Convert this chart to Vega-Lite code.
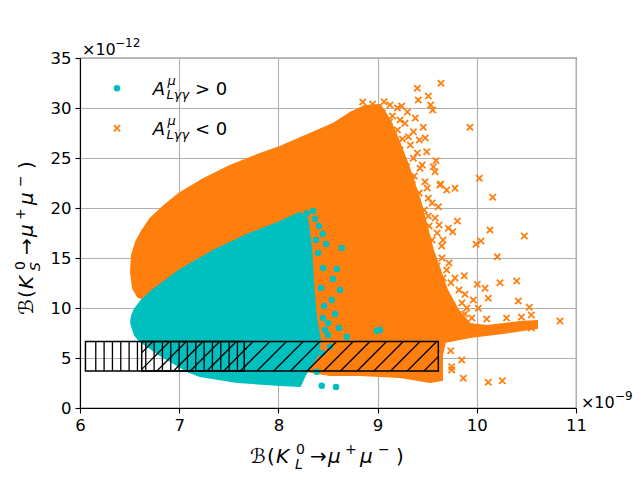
{
  "$schema": "https://vega.github.io/schema/vega-lite/v6.json",
  "autosize": {"type": "none"},
  "width": 496,
  "height": 350,
  "padding": {"left": 80, "top": 58, "right": 64, "bottom": 72},
  "config": {
    "font": "DejaVu Sans",
    "view": {"stroke": "black", "strokeWidth": 1.1},
    "axis": {
      "labelFont": "DejaVu Sans",
      "labelFontSize": 16.5,
      "labelColor": "black",
      "labelFlush": false,
      "labelOverlap": false,
      "format": "d",
      "tickColor": "black",
      "tickSize": 5,
      "tickWidth": 1.1,
      "domainColor": "black",
      "domainWidth": 1.1,
      "labelPadding": 4,
      "gridColor": "#b0b0b0",
      "gridWidth": 1.1
    }
  },
  "datasets": {
    "one": [{}],
    "orangeCloud": [
      {"i": 1, "x": 6.514, "y": 13.6}, {"i": 2, "x": 6.524, "y": 15.3},
      {"i": 3, "x": 6.565, "y": 16.6}, {"i": 4, "x": 6.625, "y": 17.7},
      {"i": 5, "x": 6.706, "y": 18.9}, {"i": 6, "x": 6.857, "y": 20.3},
      {"i": 7, "x": 7.008, "y": 21.5}, {"i": 8, "x": 7.21, "y": 22.7},
      {"i": 9, "x": 7.512, "y": 24.2}, {"i": 10, "x": 7.815, "y": 25.4},
      {"i": 11, "x": 8.016, "y": 26.1}, {"i": 12, "x": 8.319, "y": 27.4},
      {"i": 13, "x": 8.55, "y": 28.4}, {"i": 14, "x": 8.722, "y": 29.5},
      {"i": 15, "x": 8.873, "y": 30.2}, {"i": 16, "x": 9.024, "y": 30.3},
      {"i": 17, "x": 9.11, "y": 29.0}, {"i": 18, "x": 9.19, "y": 27.3},
      {"i": 19, "x": 9.3, "y": 24.5}, {"i": 20, "x": 9.427, "y": 20.8},
      {"i": 21, "x": 9.558, "y": 15.8}, {"i": 22, "x": 9.7, "y": 11.8},
      {"i": 23, "x": 9.81, "y": 9.8}, {"i": 24, "x": 9.931, "y": 8.4},
      {"i": 25, "x": 10.103, "y": 8.2}, {"i": 26, "x": 10.435, "y": 8.6},
      {"i": 27, "x": 10.607, "y": 8.7}, {"i": 28, "x": 10.607, "y": 8.0},
      {"i": 29, "x": 10.264, "y": 7.5}, {"i": 30, "x": 9.931, "y": 7.1},
      {"i": 31, "x": 9.679, "y": 6.6}, {"i": 32, "x": 9.649, "y": 5.3},
      {"i": 33, "x": 9.649, "y": 2.8}, {"i": 34, "x": 9.528, "y": 2.6},
      {"i": 35, "x": 9.226, "y": 3.1}, {"i": 36, "x": 8.823, "y": 3.3},
      {"i": 37, "x": 8.52, "y": 3.3}, {"i": 38, "x": 8.218, "y": 3.8},
      {"i": 39, "x": 7.714, "y": 5.3}, {"i": 40, "x": 7.008, "y": 8.8},
      {"i": 41, "x": 6.706, "y": 10.8}, {"i": 42, "x": 6.585, "y": 11.1},
      {"i": 43, "x": 6.534, "y": 12.0}, {"i": 44, "x": 6.514, "y": 13.6}
    ],
    "cyanCloud": [
      {"i": 1, "x": 6.514, "y": 8.5}, {"i": 2, "x": 6.524, "y": 9.2},
      {"i": 3, "x": 6.554, "y": 9.9}, {"i": 4, "x": 6.615, "y": 10.7},
      {"i": 5, "x": 6.736, "y": 11.8}, {"i": 6, "x": 7.008, "y": 13.8},
      {"i": 7, "x": 7.341, "y": 15.7}, {"i": 8, "x": 7.683, "y": 17.3},
      {"i": 9, "x": 8.016, "y": 18.6}, {"i": 10, "x": 8.218, "y": 19.5},
      {"i": 11, "x": 8.29, "y": 19.0}, {"i": 12, "x": 8.33, "y": 16.0},
      {"i": 13, "x": 8.35, "y": 12.5}, {"i": 14, "x": 8.38, "y": 9.0},
      {"i": 15, "x": 8.42, "y": 6.8}, {"i": 16, "x": 8.399, "y": 5.3},
      {"i": 17, "x": 8.268, "y": 3.3}, {"i": 18, "x": 8.218, "y": 2.2},
      {"i": 19, "x": 8.015, "y": 2.3}, {"i": 20, "x": 7.583, "y": 2.6},
      {"i": 21, "x": 7.21, "y": 3.2}, {"i": 22, "x": 7.079, "y": 3.7},
      {"i": 23, "x": 6.806, "y": 5.3}, {"i": 24, "x": 6.605, "y": 6.7},
      {"i": 25, "x": 6.554, "y": 7.3}, {"i": 26, "x": 6.514, "y": 8.5}
    ],
    "orangePts": [
      {"x": 9.4, "y": 31.97}, {"x": 9.639, "y": 32.47}, {"x": 9.41, "y": 30.8},
      {"x": 9.511, "y": 31.2}, {"x": 9.535, "y": 30.3}, {"x": 9.556, "y": 29.8},
      {"x": 9.065, "y": 30.63}, {"x": 9.125, "y": 30.3}, {"x": 9.243, "y": 30.2},
      {"x": 9.226, "y": 28.8}, {"x": 9.276, "y": 28.47}, {"x": 9.461, "y": 28.07},
      {"x": 9.361, "y": 27.63}, {"x": 9.099, "y": 28.3}, {"x": 9.158, "y": 27.13},
      {"x": 9.31, "y": 27.13}, {"x": 9.495, "y": 25.63}, {"x": 9.226, "y": 25.8},
      {"x": 9.361, "y": 24.97}, {"x": 9.589, "y": 24.73}, {"x": 9.427, "y": 23.97},
      {"x": 9.579, "y": 23.63}, {"x": 9.293, "y": 24.13}, {"x": 9.369, "y": 23.2},
      {"x": 9.478, "y": 22.63}, {"x": 9.629, "y": 22.3}, {"x": 9.697, "y": 21.8},
      {"x": 9.78, "y": 21.97}, {"x": 9.343, "y": 21.97}, {"x": 9.259, "y": 21.3},
      {"x": 9.931, "y": 28.07}, {"x": 9.562, "y": 24.13}, {"x": 10.025, "y": 22.97},
      {"x": 9.636, "y": 22.4}, {"x": 10.16, "y": 21.07}, {"x": 9.511, "y": 20.97},
      {"x": 9.612, "y": 20.13}, {"x": 9.511, "y": 19.2}, {"x": 9.804, "y": 18.7},
      {"x": 9.713, "y": 17.97}, {"x": 9.757, "y": 17.63}, {"x": 10.133, "y": 17.8},
      {"x": 10.479, "y": 17.2}, {"x": 10.042, "y": 16.7}, {"x": 9.992, "y": 16.37},
      {"x": 9.646, "y": 16.2}, {"x": 10.207, "y": 15.13}, {"x": 9.697, "y": 13.8},
      {"x": 9.874, "y": 13.23}, {"x": 9.74, "y": 12.53}, {"x": 10.234, "y": 12.53},
      {"x": 10.402, "y": 12.7}, {"x": 10.005, "y": 12.37}, {"x": 10.083, "y": 11.97},
      {"x": 9.881, "y": 11.37}, {"x": 9.965, "y": 10.8}, {"x": 10.116, "y": 10.97},
      {"x": 10.418, "y": 10.7}, {"x": 10.529, "y": 10.07}, {"x": 10.015, "y": 9.97},
      {"x": 10.839, "y": 8.7}, {"x": 9.848, "y": 4.8}, {"x": 9.747, "y": 4.13},
      {"x": 9.864, "y": 2.97}, {"x": 10.116, "y": 2.57}, {"x": 10.257, "y": 2.73},
      {"x": 9.737, "y": 5.73}, {"x": 9.814, "y": 8.47}, {"x": 9.747, "y": 3.8},
      {"x": 10.3, "y": 9.0}, {"x": 10.45, "y": 9.1}, {"x": 10.55, "y": 9.3},
      {"x": 10.1, "y": 8.9}, {"x": 9.95, "y": 9.0}, {"x": 10.55, "y": 8.0},
      {"x": 9.4, "y": 25.5}, {"x": 9.45, "y": 24.3}, {"x": 9.5, "y": 22.0},
      {"x": 9.55, "y": 20.5}, {"x": 9.58, "y": 19.0}, {"x": 9.6, "y": 17.5},
      {"x": 9.65, "y": 15.0}, {"x": 9.72, "y": 14.5}, {"x": 9.78, "y": 13.0},
      {"x": 9.82, "y": 11.8}, {"x": 9.85, "y": 10.5}, {"x": 9.9, "y": 10.0},
      {"x": 9.62, "y": 18.3}, {"x": 9.66, "y": 16.8},
      {"x": 9.05, "y": 29.5}, {"x": 9.15, "y": 29.2}, {"x": 9.2, "y": 27.8},
      {"x": 9.33, "y": 26.3}, {"x": 9.25, "y": 26.9}, {"x": 9.42, "y": 26.8},
      {"x": 9.38, "y": 29.0}, {"x": 9.3, "y": 29.6}, {"x": 9.48, "y": 27.0},
      {"x": 9.35, "y": 22.8}, {"x": 9.42, "y": 21.5}, {"x": 9.47, "y": 19.8},
      {"x": 9.52, "y": 18.2}, {"x": 9.55, "y": 16.8}, {"x": 9.6, "y": 14.2},
      {"x": 9.66, "y": 13.0}, {"x": 9.7, "y": 11.0}, {"x": 9.75, "y": 10.2},
      {"x": 9.88, "y": 9.4}, {"x": 9.12, "y": 28.6}, {"x": 8.95, "y": 30.4},
      {"x": 8.85, "y": 30.6}, {"x": 9.2, "y": 30.0}
    ],
    "cyanPts": [
      {"x": 8.285, "y": 19.47}, {"x": 8.369, "y": 18.9}, {"x": 8.409, "y": 18.2},
      {"x": 8.447, "y": 17.4}, {"x": 8.48, "y": 16.4}, {"x": 8.638, "y": 16.0},
      {"x": 8.588, "y": 13.9}, {"x": 8.55, "y": 12.9}, {"x": 8.621, "y": 11.8},
      {"x": 8.537, "y": 10.8}, {"x": 8.571, "y": 9.4}, {"x": 8.45, "y": 9.0},
      {"x": 8.611, "y": 8.0}, {"x": 8.689, "y": 7.13}, {"x": 8.991, "y": 7.73},
      {"x": 9.024, "y": 7.8}, {"x": 8.52, "y": 6.13}, {"x": 8.437, "y": 2.23},
      {"x": 8.581, "y": 2.1}, {"x": 8.386, "y": 3.63}, {"x": 8.4, "y": 15.5},
      {"x": 8.43, "y": 12.0}, {"x": 8.46, "y": 10.2}, {"x": 8.47, "y": 7.8},
      {"x": 8.5, "y": 8.5}, {"x": 8.38, "y": 16.8}, {"x": 8.35, "y": 19.7},
      {"x": 8.45, "y": 14.0}, {"x": 8.44, "y": 5.5}, {"x": 8.5, "y": 7.3}
    ],
    "hatch": [
      {"x": 6.159, "y": 3.7, "x2": 6.159, "y2": 6.65},
      {"x": 6.243, "y": 3.7, "x2": 6.243, "y2": 6.65},
      {"x": 6.327, "y": 3.7, "x2": 6.327, "y2": 6.65},
      {"x": 6.411, "y": 3.7, "x2": 6.411, "y2": 6.65},
      {"x": 6.495, "y": 3.7, "x2": 6.495, "y2": 6.65},
      {"x": 6.579, "y": 3.7, "x2": 6.579, "y2": 6.65},
      {"x": 6.663, "y": 3.7, "x2": 6.663, "y2": 6.65},
      {"x": 6.747, "y": 3.7, "x2": 6.747, "y2": 6.65},
      {"x": 6.831, "y": 3.7, "x2": 6.831, "y2": 6.65},
      {"x": 6.915, "y": 3.7, "x2": 6.915, "y2": 6.65},
      {"x": 6.999, "y": 3.7, "x2": 6.999, "y2": 6.65},
      {"x": 7.083, "y": 3.7, "x2": 7.083, "y2": 6.65},
      {"x": 7.167, "y": 3.7, "x2": 7.167, "y2": 6.65},
      {"x": 7.251, "y": 3.7, "x2": 7.251, "y2": 6.65},
      {"x": 7.335, "y": 3.7, "x2": 7.335, "y2": 6.65},
      {"x": 7.419, "y": 3.7, "x2": 7.419, "y2": 6.65},
      {"x": 7.503, "y": 3.7, "x2": 7.503, "y2": 6.65},
      {"x": 7.587, "y": 3.7, "x2": 7.587, "y2": 6.65},
      {"x": 9.467, "y": 3.7, "x2": 9.612, "y2": 5.14},
      {"x": 9.299, "y": 3.7, "x2": 9.596, "y2": 6.65},
      {"x": 9.131, "y": 3.7, "x2": 9.428, "y2": 6.65},
      {"x": 8.962, "y": 3.7, "x2": 9.259, "y2": 6.65},
      {"x": 8.794, "y": 3.7, "x2": 9.091, "y2": 6.65},
      {"x": 8.626, "y": 3.7, "x2": 8.923, "y2": 6.65},
      {"x": 8.457, "y": 3.7, "x2": 8.754, "y2": 6.65},
      {"x": 8.289, "y": 3.7, "x2": 8.586, "y2": 6.65},
      {"x": 8.121, "y": 3.7, "x2": 8.418, "y2": 6.65},
      {"x": 7.953, "y": 3.7, "x2": 8.25, "y2": 6.65},
      {"x": 7.784, "y": 3.7, "x2": 8.081, "y2": 6.65},
      {"x": 7.616, "y": 3.7, "x2": 7.913, "y2": 6.65},
      {"x": 7.448, "y": 3.7, "x2": 7.745, "y2": 6.65},
      {"x": 7.279, "y": 3.7, "x2": 7.576, "y2": 6.65},
      {"x": 7.111, "y": 3.7, "x2": 7.408, "y2": 6.65},
      {"x": 6.943, "y": 3.7, "x2": 7.24, "y2": 6.65},
      {"x": 6.775, "y": 3.7, "x2": 7.072, "y2": 6.65},
      {"x": 6.622, "y": 3.86, "x2": 6.903, "y2": 6.65},
      {"x": 6.622, "y": 5.53, "x2": 6.735, "y2": 6.65}
    ],
    "boxes": [
      {"x": 6.055, "x2": 7.656, "y": 3.7, "y2": 6.65},
      {"x": 6.622, "x2": 9.612, "y": 3.7, "y2": 6.65}
    ]
  },
  "layer": [
    {
      "data": {"name": "orangeCloud"},
      "mark": {"type": "line", "fill": "#ff7f0e", "stroke": "#ff7f0e", "strokeWidth": 2, "strokeJoin": "round"},
      "encoding": {
        "x": {"field": "x", "type": "quantitative", "title": null,
              "scale": {"domain": [6, 11], "nice": false, "zero": false},
              "axis": {"values": [6, 7, 8, 9, 10, 11], "grid": true}},
        "y": {"field": "y", "type": "quantitative", "title": null,
              "scale": {"domain": [0, 35], "nice": false, "zero": false},
              "axis": {"values": [0, 5, 10, 15, 20, 25, 30, 35], "grid": true}},
        "order": {"field": "i", "type": "quantitative"}
      }
    },
    {
      "data": {"name": "orangePts"},
      "mark": {"type": "point", "shape": "M-1,-1L1,1M-1,1L1,-1", "filled": false, "stroke": "#ff7f0e", "strokeWidth": 1.8, "size": 40, "opacity": 1},
      "encoding": {
        "x": {"field": "x", "type": "quantitative", "title": null},
        "y": {"field": "y", "type": "quantitative", "title": null}
      }
    },
    {
      "data": {"name": "cyanCloud"},
      "mark": {"type": "line", "fill": "#00bfbf", "stroke": "#00bfbf", "strokeWidth": 2, "strokeJoin": "round"},
      "encoding": {
        "x": {"field": "x", "type": "quantitative", "title": null},
        "y": {"field": "y", "type": "quantitative", "title": null},
        "order": {"field": "i", "type": "quantitative"}
      }
    },
    {
      "data": {"name": "cyanPts"},
      "mark": {"type": "circle", "color": "#00bfbf", "size": 42, "opacity": 1},
      "encoding": {
        "x": {"field": "x", "type": "quantitative", "title": null},
        "y": {"field": "y", "type": "quantitative", "title": null}
      }
    },
    {
      "data": {"name": "hatch"},
      "mark": {"type": "rule", "color": "black", "strokeWidth": 1.3},
      "encoding": {
        "x": {"field": "x", "type": "quantitative", "title": null},
        "y": {"field": "y", "type": "quantitative", "title": null},
        "x2": {"field": "x2"},
        "y2": {"field": "y2"}
      }
    },
    {
      "data": {"name": "boxes"},
      "mark": {"type": "rect", "filled": false, "color": "black", "strokeWidth": 1.5},
      "encoding": {
        "x": {"field": "x", "type": "quantitative", "title": null},
        "y": {"field": "y", "type": "quantitative", "title": null},
        "x2": {"field": "x2"},
        "y2": {"field": "y2"}
      }
    },
    {
      "data": {"name": "one"},
      "mark": {"type": "circle", "color": "#00bfbf", "size": 42, "opacity": 1},
      "encoding": {"x": {"datum": 6.373}, "y": {"datum": 31.97}}
    },
    {
      "data": {"name": "one"},
      "mark": {"type": "point", "shape": "M-1,-1L1,1M-1,1L1,-1", "filled": false, "stroke": "#ff7f0e", "strokeWidth": 1.8, "size": 40, "opacity": 1},
      "encoding": {"x": {"datum": 6.373}, "y": {"datum": 27.97}}
    },
    {"data": {"name": "one"}, "mark": {"type": "text", "text": "A", "fontSize": 18, "fontStyle": "italic", "align": "left", "baseline": "alphabetic"}, "encoding": {"x": {"datum": 6.733}, "y": {"datum": 31.3}}},
    {"data": {"name": "one"}, "mark": {"type": "text", "text": "μ", "fontSize": 13, "fontStyle": "italic", "align": "left", "baseline": "alphabetic"}, "encoding": {"x": {"datum": 6.882}, "y": {"datum": 32.3}}},
    {"data": {"name": "one"}, "mark": {"type": "text", "text": "Lγγ", "fontSize": 13, "fontStyle": "italic", "align": "left", "baseline": "alphabetic"}, "encoding": {"x": {"datum": 6.872}, "y": {"datum": 30.9}}},
    {"data": {"name": "one"}, "mark": {"type": "text", "text": "> 0", "fontSize": 18, "align": "left", "baseline": "alphabetic"}, "encoding": {"x": {"datum": 7.159}, "y": {"datum": 31.3}}},
    {"data": {"name": "one"}, "mark": {"type": "text", "text": "A", "fontSize": 18, "fontStyle": "italic", "align": "left", "baseline": "alphabetic"}, "encoding": {"x": {"datum": 6.733}, "y": {"datum": 27.3}}},
    {"data": {"name": "one"}, "mark": {"type": "text", "text": "μ", "fontSize": 13, "fontStyle": "italic", "align": "left", "baseline": "alphabetic"}, "encoding": {"x": {"datum": 6.882}, "y": {"datum": 28.3}}},
    {"data": {"name": "one"}, "mark": {"type": "text", "text": "Lγγ", "fontSize": 13, "fontStyle": "italic", "align": "left", "baseline": "alphabetic"}, "encoding": {"x": {"datum": 6.872}, "y": {"datum": 26.9}}},
    {"data": {"name": "one"}, "mark": {"type": "text", "text": "< 0", "fontSize": 18, "align": "left", "baseline": "alphabetic"}, "encoding": {"x": {"datum": 7.159}, "y": {"datum": 27.3}}},
    {"data": {"name": "one"}, "mark": {"type": "text", "text": "×10", "fontSize": 16, "align": "left", "baseline": "alphabetic"}, "encoding": {"x": {"datum": 6.02}, "y": {"datum": 35.3}}},
    {"data": {"name": "one"}, "mark": {"type": "text", "text": "−12", "fontSize": 12, "align": "left", "baseline": "alphabetic"}, "encoding": {"x": {"datum": 6.353}, "y": {"datum": 36.1}}},
    {"data": {"name": "one"}, "mark": {"type": "text", "text": "×10", "fontSize": 16, "align": "left", "baseline": "alphabetic"}, "encoding": {"x": {"datum": 11.05}, "y": {"datum": 0.0}}},
    {"data": {"name": "one"}, "mark": {"type": "text", "text": "−9", "fontSize": 12, "align": "left", "baseline": "alphabetic"}, "encoding": {"x": {"datum": 11.393}, "y": {"datum": 0.8}}},
    {"data": {"name": "one"}, "mark": {"type": "text", "text": "ℬ", "fontSize": 20, "align": "left", "baseline": "alphabetic"}, "encoding": {"x": {"datum": 7.714}, "y": {"datum": -5.5}}},
    {"data": {"name": "one"}, "mark": {"type": "text", "text": "(", "fontSize": 20, "align": "left", "baseline": "alphabetic"}, "encoding": {"x": {"datum": 7.885}, "y": {"datum": -5.5}}},
    {"data": {"name": "one"}, "mark": {"type": "text", "text": "K", "fontSize": 20, "fontStyle": "italic", "align": "left", "baseline": "alphabetic"}, "encoding": {"x": {"datum": 7.976}, "y": {"datum": -5.5}}},
    {"data": {"name": "one"}, "mark": {"type": "text", "text": "0", "fontSize": 14, "align": "left", "baseline": "alphabetic"}, "encoding": {"x": {"datum": 8.177}, "y": {"datum": -4.6}}},
    {"data": {"name": "one"}, "mark": {"type": "text", "text": "L", "fontSize": 14, "fontStyle": "italic", "align": "left", "baseline": "alphabetic"}, "encoding": {"x": {"datum": 8.167}, "y": {"datum": -6.1}}},
    {"data": {"name": "one"}, "mark": {"type": "text", "text": "→", "fontSize": 20, "align": "left", "baseline": "alphabetic"}, "encoding": {"x": {"datum": 8.319}, "y": {"datum": -5.5}}},
    {"data": {"name": "one"}, "mark": {"type": "text", "text": "μ", "fontSize": 20, "fontStyle": "italic", "align": "left", "baseline": "alphabetic"}, "encoding": {"x": {"datum": 8.5}, "y": {"datum": -5.5}}},
    {"data": {"name": "one"}, "mark": {"type": "text", "text": "+", "fontSize": 14, "align": "left", "baseline": "alphabetic"}, "encoding": {"x": {"datum": 8.671}, "y": {"datum": -4.6}}},
    {"data": {"name": "one"}, "mark": {"type": "text", "text": "μ", "fontSize": 20, "fontStyle": "italic", "align": "left", "baseline": "alphabetic"}, "encoding": {"x": {"datum": 8.823}, "y": {"datum": -5.5}}},
    {"data": {"name": "one"}, "mark": {"type": "text", "text": "−", "fontSize": 14, "align": "left", "baseline": "alphabetic"}, "encoding": {"x": {"datum": 9.004}, "y": {"datum": -4.6}}},
    {"data": {"name": "one"}, "mark": {"type": "text", "text": ")", "fontSize": 20, "align": "left", "baseline": "alphabetic"}, "encoding": {"x": {"datum": 9.185}, "y": {"datum": -5.5}}},
    {"data": {"name": "one"}, "mark": {"type": "text", "text": "ℬ", "fontSize": 20, "angle": 270, "align": "left", "baseline": "alphabetic"}, "encoding": {"x": {"datum": 5.526}, "y": {"datum": 9.3}}},
    {"data": {"name": "one"}, "mark": {"type": "text", "text": "(", "fontSize": 20, "angle": 270, "align": "left", "baseline": "alphabetic"}, "encoding": {"x": {"datum": 5.526}, "y": {"datum": 11.0}}},
    {"data": {"name": "one"}, "mark": {"type": "text", "text": "K", "fontSize": 20, "fontStyle": "italic", "angle": 270, "align": "left", "baseline": "alphabetic"}, "encoding": {"x": {"datum": 5.526}, "y": {"datum": 11.9}}},
    {"data": {"name": "one"}, "mark": {"type": "text", "text": "0", "fontSize": 14, "angle": 270, "align": "left", "baseline": "alphabetic"}, "encoding": {"x": {"datum": 5.446}, "y": {"datum": 13.8}}},
    {"data": {"name": "one"}, "mark": {"type": "text", "text": "S", "fontSize": 14, "fontStyle": "italic", "angle": 270, "align": "left", "baseline": "alphabetic"}, "encoding": {"x": {"datum": 5.597}, "y": {"datum": 13.7}}},
    {"data": {"name": "one"}, "mark": {"type": "text", "text": "→", "fontSize": 20, "angle": 270, "align": "left", "baseline": "alphabetic"}, "encoding": {"x": {"datum": 5.526}, "y": {"datum": 15.3}}},
    {"data": {"name": "one"}, "mark": {"type": "text", "text": "μ", "fontSize": 20, "fontStyle": "italic", "angle": 270, "align": "left", "baseline": "alphabetic"}, "encoding": {"x": {"datum": 5.526}, "y": {"datum": 17.1}}},
    {"data": {"name": "one"}, "mark": {"type": "text", "text": "+", "fontSize": 14, "angle": 270, "align": "left", "baseline": "alphabetic"}, "encoding": {"x": {"datum": 5.446}, "y": {"datum": 18.8}}},
    {"data": {"name": "one"}, "mark": {"type": "text", "text": "μ", "fontSize": 20, "fontStyle": "italic", "angle": 270, "align": "left", "baseline": "alphabetic"}, "encoding": {"x": {"datum": 5.526}, "y": {"datum": 20.3}}},
    {"data": {"name": "one"}, "mark": {"type": "text", "text": "−", "fontSize": 14, "angle": 270, "align": "left", "baseline": "alphabetic"}, "encoding": {"x": {"datum": 5.446}, "y": {"datum": 22.1}}},
    {"data": {"name": "one"}, "mark": {"type": "text", "text": ")", "fontSize": 20, "angle": 270, "align": "left", "baseline": "alphabetic"}, "encoding": {"x": {"datum": 5.526}, "y": {"datum": 23.9}}}
  ]
}
